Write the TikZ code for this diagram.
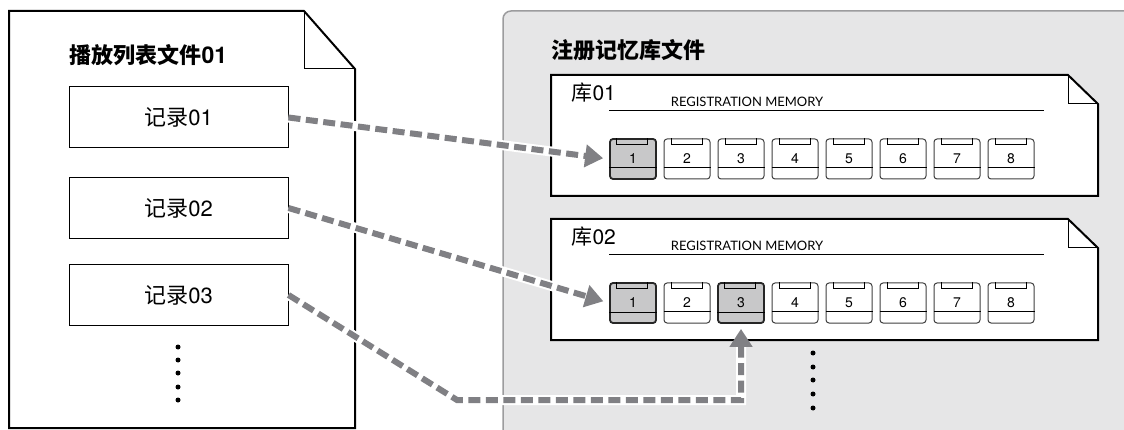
\documentclass[tikz,border=0pt]{standalone}
\usepackage{fontspec}
\setmainfont{TeX Gyre Heros}
\newfontfamily\cjk{Noto Sans CJK SC}
\newfontfamily\regfont{Lato}
\usepackage{tikz}
\usetikzlibrary{positioning, arrows.meta}

\definecolor{panelgray}{HTML}{E6E6E7}
\definecolor{panelline}{HTML}{9C9C9E}
\definecolor{linkgray}{HTML}{808084}
\definecolor{selgray}{HTML}{C8C8C9}

\begin{document}
\begin{tikzpicture}[x=1pt, y=-1pt,
    rec/.style={draw, line width=1pt, fill=white, minimum width=219pt, minimum height=61pt, font=\fontsize{22}{26}\selectfont},
    btn/.style={draw=black!75, line width=1pt, fill=white, rounded corners=3pt, minimum width=46pt, minimum height=40pt, inner sep=0pt, font=\fontsize{14}{16}\selectfont},
    sel/.style={btn, fill=selgray, draw=black!85, line width=1.8pt},
    title/.style={font=\fontsize{22}{26}\selectfont\bfseries, anchor=west},
    banklabel/.style={font=\fontsize{21}{25}\selectfont, anchor=west},
    regtext/.style={font=\regfont\fontsize{13}{15}\selectfont},
    dot/.style={circle, fill=black, inner sep=0pt, minimum size=5pt},
    link/.style={draw=linkgray, line width=6pt, dash pattern=on 12pt off 5.5pt, shorten >=6pt,
        -{Triangle[length=18pt, width=22pt]},
        preaction={draw=white, line width=10pt, solid, -, shorten >=22pt}}
]
\useasboundingbox (0,0) rectangle (1124,430);
\clip (0,0) rectangle (1124,430);

% registration memory panel
\draw[fill=panelgray, draw=panelline, line width=1.5pt, rounded corners=8pt] (503,11) rectangle (1150,450);
\node[title] (regname) at (548,50) {\cjk 注册记忆库文件};

% playlist file
\draw[fill=white, line width=2pt] (9,11) -- (304,11) -- (355,69) -- (355,428) -- (9,428) -- cycle;
\draw[line width=1pt] (304,11) -- (304,69) -- (355,69);
\node[title] (plname) at (66,55) {{\cjk 播放列表文件}\fontsize{23}{26}\selectfont 01};

\foreach \i/\y in {1/117.5, 2/208, 3/295}{
    \node[rec] (rec\i) at (178.5,\y) {{\cjk 记录}0\i};
}
\foreach \y [count=\k] in {347,360,373,387,400}{
    \node[dot] (dl\k) at (178,\y) {};
}

% banks
\foreach \b/\dy in {1/0, 2/144}{
    \draw[fill=white, line width=2pt] (551,{75+\dy}) -- (1068,{75+\dy}) -- (1098,{104+\dy}) -- (1098,{196+\dy}) -- (551,{196+\dy}) -- cycle;
    \draw[line width=1pt] (1068,{75+\dy}) -- (1068,{104+\dy}) -- (1098,{104+\dy});
    \node[banklabel] (bank\b) at (568,{93+\dy}) {{\cjk 库}0\b};
    \node[regtext] (reg\b) at (747,{102+\dy}) {REGISTRATION MEMORY};
    \draw[line width=0.8pt] (609,{110+\dy}) -- (1044,{110+\dy});
    \foreach \k in {1,...,8}{
        \pgfmathparse{(\k==1 || (\b==2 && \k==3)) ? "sel" : "btn"}
        \edef\bstyle{\pgfmathresult}
        \node[\bstyle] (b\b-\k) at ({633+(\k-1)*54},{159+\dy}) {\k};
        \draw[line width=0.8pt] ([xshift=7.5pt]b\b-\k.north west) -- ++(0,-6pt) -- ++(31pt,0) -- ++(0,6pt);
        \draw[line width=0.8pt] ([yshift=12pt]b\b-\k.south west) -- ([yshift=12pt]b\b-\k.south east);
    }
}
\foreach \y [count=\k] in {353,367,380,394,408}{
    \node[dot] (dr\k) at (813,\y) {};
}

% links
\coordinate (bend) at (457,400);
\draw[link] (rec1.east) -- (b1-1.west);
\draw[link] (rec2.east) -- (b2-1.west);
\draw[link, shorten >=5pt] (rec3.east) -- (bend) -| (b2-3.south);
\end{tikzpicture}
\end{document}
